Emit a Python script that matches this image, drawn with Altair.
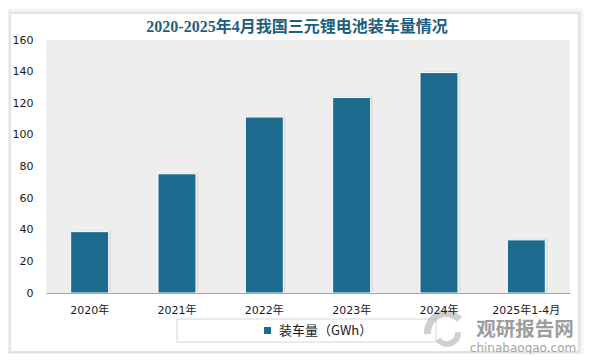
import altair as alt
import pandas as pd

years = ["2020年", "2021年", "2022年", "2023年", "2024年", "2025年1-4月"]
values = [38.8, 75.4, 111.3, 123.6, 139.4, 33.6]
series_name = "装车量（GWh）"
title_text = "2020-2025年4月我国三元锂电池装车量情况"
y_ticks = [0, 20, 40, 60, 80, 100, 120, 140, 160]
wm_main = "观研报告网"
wm_sub = "chinabaogao.com"

W, H = 524, 253
BAR = "#1c6b8f"

df = pd.DataFrame({"year": years, "value": values, "series": [series_name] * len(years)})
one = pd.DataFrame({"k": [0]})


def deco_rect(x, x2, y, y2, **kw):
    return alt.Chart(one).mark_rect(**kw).encode(
        x=alt.value(x), x2=alt.value(x2), y=alt.value(y), y2=alt.value(y2)
    )

# card with soft shadow
shadow3 = deco_rect(-41, 538, -32, 317, fill="#000000", opacity=0.025)
shadow2 = deco_rect(-39, 536, -30, 315, fill="#000000", opacity=0.035)
shadow1 = deco_rect(-37, 534, -28, 313, fill="#000000", opacity=0.05)
card = deco_rect(-35, 532, -26, 311, fill="#ffffff")
plotbg = deco_rect(0, W, 0, H, fill="#eeeeee")
legbox = deco_rect(131, 390, 279, 302, fill="#ffffff", stroke="#d6d6d6", strokeWidth=1)

x_scale = alt.Scale(type="band", paddingInner=0.565, paddingOuter=0.2825)

x_enc = alt.X(
    "year:N", sort=years, scale=x_scale,
    axis=alt.Axis(
        title=None, labelAngle=0, ticks=False, domain=True, domainColor="#a6a6a6",
        domainWidth=1, labelPadding=11, labelFont="DejaVu Sans, Noto Sans CJK SC",
        labelFontSize=11, labelColor="#1a1a1a", grid=False, labelBaseline="top",
        labelOverlap=False, zindex=2,
    ),
)
y_enc = alt.Y(
    "value:Q", scale=alt.Scale(domain=[0, 160], nice=False),
    axis=alt.Axis(
        title=None, values=y_ticks, ticks=False, domain=False, grid=False,
        labelPadding=13, labelFont="DejaVu Sans", labelFontSize=11, labelColor="#1a1a1a",
        labelOverlap=False, zindex=2,
    ),
)

bar_shadow = alt.Chart(df).mark_bar(color="#000000", opacity=0.07, xOffset=2.5, yOffset=-1).encode(
    x=x_enc, y=y_enc
)

bars = alt.Chart(df).mark_bar(stroke="#ffffff", strokeWidth=1).encode(
    x=x_enc,
    y=y_enc,
    color=alt.Color(
        "series:N",
        scale=alt.Scale(range=[BAR]),
        legend=alt.Legend(
            title=None, orient="none", legendX=215, legendY=284, padding=0,
            symbolType="square", symbolSize=49, symbolStrokeWidth=0,
            labelFontSize=13, labelFont="Noto Sans CJK SC", labelColor="#1a1a1a",
            labelOffset=5, zindex=2,
        ),
    ),
)

title = alt.Chart(one).mark_text(
    text=title_text, font="Liberation Serif, Noto Sans CJK SC", fontSize=16,
    fontWeight="bold", color="#1d5f80", align="center", baseline="alphabetic",
).encode(x=alt.value(251), y=alt.value(-8))

# watermark logo (decorative swooshes)
logo1 = alt.Chart(one).mark_arc(
    radius=22, radius2=15, theta=4.6, theta2=7.1, color="#a8a8a8", opacity=0.55
).encode(x=alt.value(400), y=alt.value(292))
logo2 = alt.Chart(one).mark_arc(
    radius=14, radius2=8, theta=1.5, theta2=4.1, color="#a8a8a8", opacity=0.55
).encode(x=alt.value(401), y=alt.value(293))

wm1 = alt.Chart(one).mark_text(
    text=wm_main, font="Noto Sans CJK SC", fontSize=19.5, fontWeight="bold",
    color="#8c8c8c", opacity=0.85, align="center", baseline="alphabetic",
).encode(x=alt.value(479), y=alt.value(296))
wm2 = alt.Chart(one).mark_text(
    text=wm_sub, font="DejaVu Sans", fontSize=12, color="#9a9a9a", opacity=0.9,
    align="center", baseline="alphabetic",
).encode(x=alt.value(477), y=alt.value(311.5))

chart = alt.layer(
    shadow3, shadow2, shadow1, card, plotbg, legbox, bar_shadow, bars, title,
    logo1, logo2, wm1, wm2
).properties(
    width=W, height=H,
    padding={"left": 38, "top": 32, "right": 14, "bottom": 61},
    autosize=alt.AutoSizeParams(type="none"),
    background="#ffffff",
).configure_view(stroke=None)

chart.save("out.html", embed_options={"renderer": "svg", "actions": False})
